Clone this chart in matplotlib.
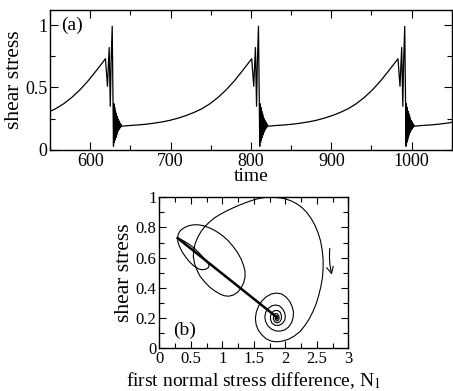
import matplotlib
matplotlib.use("Agg")
import matplotlib.pyplot as plt
from matplotlib.ticker import MultipleLocator, FormatStrFormatter

plt.rcParams['font.family'] = ['Liberation Serif', 'DejaVu Serif']
plt.rcParams['mathtext.fontset'] = 'stix'

# (a) shear stress vs time
time_c1 = [550, 557, 567, 577, 587, 597, 607, 613, 619,
           620.2, 621.5, 622.5, 623.6, 624.3, 625, 626, 627.4, 628.2, 629,
           629.5, 630, 630.5, 631, 631.5, 632, 632.5, 633, 633.5, 634, 634.5,
           635, 635.5, 636, 636.5, 637, 637.5, 638, 638.5, 639,
           649, 659, 669, 679, 689, 699, 709, 719, 729, 739, 749, 759, 769, 779,
           789, 795, 801]
stress_c1 = [0.309, 0.33, 0.37, 0.42, 0.48, 0.55, 0.63, 0.68, 0.73,
             0.62, 0.51, 0.66, 0.82, 0.60, 0.35, 0.70, 0.99, 0.50, 0.03,
             0.37, 0.06, 0.34, 0.08, 0.31, 0.10, 0.29, 0.12, 0.27, 0.14, 0.25,
             0.155, 0.235, 0.165, 0.225, 0.175, 0.212, 0.183, 0.203, 0.19,
             0.196, 0.20, 0.206, 0.214, 0.224, 0.237, 0.254, 0.275, 0.30, 0.33, 0.37,
             0.42, 0.48, 0.55, 0.63, 0.68, 0.73]

time_c2 = [802.2, 803.5, 804.5, 805.6, 806.3, 807, 808, 809.4, 810.2, 811,
           811.5, 812, 812.5, 813, 813.5, 814, 814.5, 815, 815.5, 816, 816.5,
           817, 817.5, 818, 818.5, 819, 819.5, 820, 820.5, 821,
           831, 841, 851, 861, 871, 881, 891, 901, 911, 921, 931, 941, 951, 961,
           971, 977, 983]
stress_c2 = [0.62, 0.51, 0.66, 0.82, 0.60, 0.35, 0.70, 0.99, 0.50, 0.03,
             0.37, 0.06, 0.34, 0.08, 0.31, 0.10, 0.29, 0.12, 0.27, 0.14, 0.25,
             0.155, 0.235, 0.165, 0.225, 0.175, 0.212, 0.183, 0.203, 0.19,
             0.196, 0.20, 0.206, 0.214, 0.224, 0.237, 0.254, 0.275, 0.30, 0.33, 0.37,
             0.42, 0.48, 0.55, 0.63, 0.68, 0.73]

time_c3 = [984.2, 985.5, 986.5, 987.6, 988.3, 989, 990, 991.4, 992.2, 993,
           993.5, 994, 994.5, 995, 995.5, 996, 996.5, 997, 997.5, 998, 998.5,
           999, 999.5, 1000, 1000.5, 1001, 1001.5, 1002, 1002.5, 1003,
           1013, 1023, 1033, 1043, 1050]
stress_c3 = [0.62, 0.51, 0.66, 0.82, 0.60, 0.35, 0.70, 0.99, 0.50, 0.03,
             0.37, 0.06, 0.34, 0.08, 0.31, 0.10, 0.29, 0.12, 0.27, 0.14, 0.25,
             0.155, 0.235, 0.165, 0.225, 0.175, 0.212, 0.183, 0.203, 0.19,
             0.196, 0.20, 0.206, 0.214, 0.221]

# (b) shear stress vs first normal stress difference (fast part of one cycle)
n1_fast = [0.29, 0.34, 0.40, 0.47, 0.54, 0.61, 0.68, 0.73, 0.77, 0.79, 0.78, 0.74,
           0.68, 0.62, 0.55, 0.48, 0.42, 0.36, 0.32, 0.295, 0.29,
           0.30, 0.33, 0.38, 0.44, 0.50, 0.56, 0.62, 0.70, 0.78, 0.86, 0.94, 1.02,
           1.10, 1.17, 1.24, 1.30, 1.34, 1.36, 1.36, 1.34, 1.30, 1.24, 1.17, 1.10,
           1.03, 0.96, 0.88, 0.80, 0.72, 0.65, 0.60, 0.56, 0.54, 0.545, 0.57, 0.61,
           0.66, 0.72, 0.80, 0.88, 0.97, 1.06, 1.16, 1.27, 1.38, 1.49, 1.60, 1.70,
           1.80, 1.90, 2.00, 2.10, 2.19, 2.27, 2.34, 2.41, 2.47, 2.52, 2.56, 2.585,
           2.60, 2.60, 2.59, 2.565, 2.53, 2.49, 2.44, 2.38, 2.31, 2.23, 2.14, 2.05,
           1.96, 1.87, 1.78, 1.70, 1.63, 1.57, 1.535, 1.525, 1.54, 1.575, 1.63, 1.70,
           1.78, 1.86, 1.94, 2.01, 2.07, 2.11, 2.13, 2.125, 2.10, 2.05, 1.99, 1.92,
           1.85, 1.78, 1.72, 1.685, 1.675, 1.69, 1.73, 1.79, 1.85, 1.91, 1.96, 1.99,
           2.00, 1.99, 1.95, 1.90, 1.84, 1.79, 1.765, 1.765, 1.79, 1.83, 1.88, 1.92,
           1.94, 1.935, 1.91, 1.87, 1.83, 1.81, 1.815, 1.84, 1.875, 1.90, 1.90, 1.88,
           1.855, 1.838, 1.845, 1.867, 1.882, 1.873, 1.857, 1.855, 1.862]
stress_fast = [0.73, 0.722, 0.708, 0.69, 0.668, 0.64, 0.61, 0.585, 0.565, 0.55, 0.535, 0.524,
               0.52, 0.526, 0.545, 0.572, 0.603, 0.64, 0.675, 0.705, 0.73,
               0.755, 0.778, 0.795, 0.808, 0.815, 0.818, 0.818, 0.812, 0.80, 0.785, 0.765, 0.74,
               0.71, 0.675, 0.635, 0.59, 0.545, 0.51, 0.47, 0.435, 0.40, 0.37, 0.352, 0.345,
               0.348, 0.36, 0.38, 0.405, 0.44, 0.475, 0.515, 0.56, 0.605, 0.65, 0.695, 0.735,
               0.772, 0.805, 0.838, 0.865, 0.888, 0.908, 0.928, 0.948, 0.966, 0.982, 0.994, 1.0,
               1.0, 0.997, 0.99, 0.975, 0.955, 0.93, 0.90, 0.86, 0.815, 0.765, 0.71, 0.65,
               0.59, 0.53, 0.47, 0.41, 0.35, 0.295, 0.245, 0.195, 0.15, 0.11, 0.08, 0.06,
               0.048, 0.043, 0.047, 0.062, 0.088, 0.12, 0.16, 0.20, 0.24, 0.28, 0.315, 0.342,
               0.36, 0.366, 0.36, 0.34, 0.31, 0.275, 0.24, 0.205, 0.17, 0.14, 0.122, 0.114,
               0.115, 0.127, 0.15, 0.18, 0.21, 0.24, 0.265, 0.282, 0.287, 0.28, 0.26, 0.235,
               0.21, 0.185, 0.163, 0.152, 0.152, 0.165, 0.19, 0.215, 0.238, 0.25, 0.25, 0.238,
               0.215, 0.19, 0.175, 0.168, 0.175, 0.195, 0.218, 0.23, 0.228, 0.213, 0.193, 0.182,
               0.183, 0.197, 0.213, 0.217, 0.205, 0.193, 0.195, 0.205, 0.207]
# slow branch, traced once per cycle
n1_slow = [1.862, 0.29]
stress_slow = [0.207, 0.73]

fig = plt.figure(figsize=(4.53, 3.91), dpi=100)
ax1 = fig.add_axes([0.1104, 0.6164, 0.887, 0.358])
ax2 = fig.add_axes([0.3517, 0.1092, 0.4172, 0.3862])

time_all = time_c1 + time_c2 + time_c3
stress_all = stress_c1 + stress_c2 + stress_c3
ax1.plot(time_all, stress_all, color='black', lw=0.9)

ax1.set_xlim(550, 1050)
ax1.set_ylim(0, 1.12)
ax1.xaxis.set_major_locator(MultipleLocator(100))
ax1.xaxis.set_minor_locator(MultipleLocator(50))
ax1.yaxis.set_major_locator(MultipleLocator(0.5))
ax1.yaxis.set_minor_locator(MultipleLocator(0.25))
ax1.yaxis.set_major_formatter(FormatStrFormatter('%g'))
ax1.set_xlabel('time', fontsize=14, labelpad=-1)
ax1.set_ylabel('shear stress', fontsize=15.5, labelpad=1)
ax1.text(0.027, 0.89, '(a)', transform=ax1.transAxes, fontsize=14, va='center', ha='left')

ax2.plot(n1_fast, stress_fast, color='black', lw=0.8)
ax2.plot(n1_slow, stress_slow, color='black', lw=1.8)
ax2.annotate('', xy=(2.75, 0.47), xytext=(2.71, 0.68),
             arrowprops=dict(arrowstyle='->', color='black', lw=0.8,
                             connectionstyle='arc3,rad=0.1', mutation_scale=12))
ax2.set_xlim(0, 3)
ax2.set_ylim(0, 1)
ax2.xaxis.set_major_locator(MultipleLocator(0.5))
ax2.xaxis.set_minor_locator(MultipleLocator(0.25))
ax2.yaxis.set_major_locator(MultipleLocator(0.2))
ax2.yaxis.set_minor_locator(MultipleLocator(0.1))
ax2.xaxis.set_major_formatter(FormatStrFormatter('%g'))
ax2.yaxis.set_major_formatter(FormatStrFormatter('%g'))
ax2.set_xlabel('first normal stress difference, N$_1$', fontsize=14, labelpad=2)
ax2.set_ylabel('shear stress', fontsize=15.5, labelpad=1)
ax2.text(0.071, 0.118, '(b)', transform=ax2.transAxes, fontsize=14, va='center', ha='left')

for ax, fs, ml in [(ax1, 13, 6), (ax2, 12, 5)]:
    ax.tick_params(which='both', direction='in', top=True, right=True, labelsize=fs, pad=2)
    ax.tick_params(which='major', length=ml, width=0.8)
    ax.tick_params(which='minor', length=3.5, width=0.8)
    for sp in ax.spines.values():
        sp.set_linewidth(1.0)

fig.savefig('out.png', dpi=100)
